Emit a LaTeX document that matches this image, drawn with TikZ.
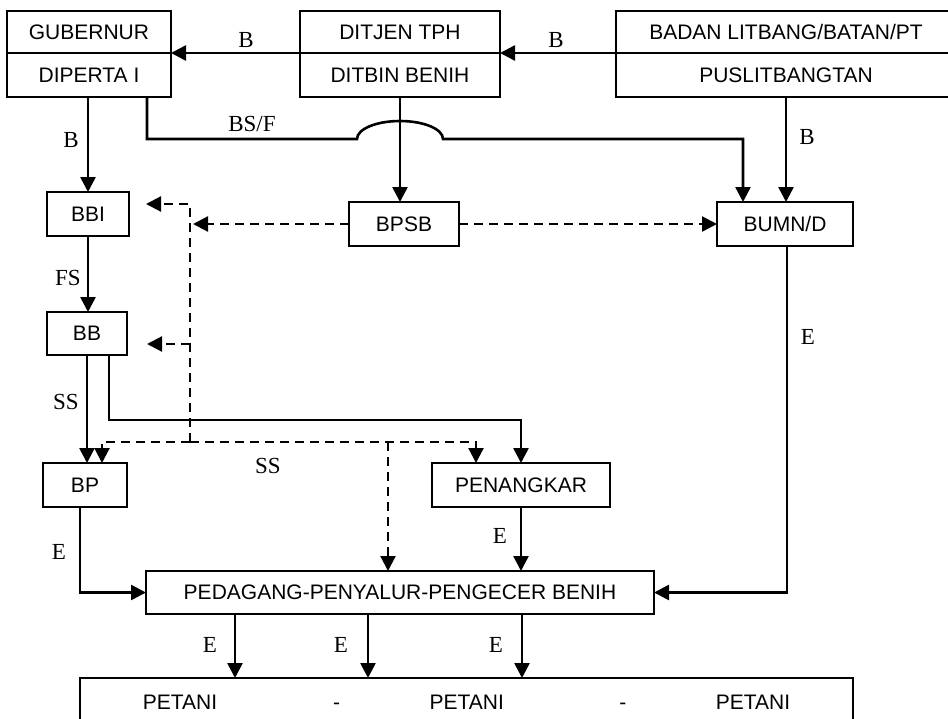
\documentclass[tikz,border=0pt]{standalone}
\usepackage{fontspec}
\setmainfont{Liberation Serif}
\setsansfont{Liberation Sans}
\usetikzlibrary{arrows.meta, positioning}

\begin{document}
\begin{tikzpicture}[
  x=1pt, y=-1pt,
  box/.style={draw, line width=2pt, inner sep=0pt, outer sep=0pt, minimum height=44pt, font=\sffamily\fontsize{21}{25}\selectfont},
  lbl/.style={inner sep=0pt, font=\fontsize{23}{27}\selectfont},
  arrow/.style={-{Triangle[length=15pt, width=15pt]}, line width=2.6pt},
  dasharrow/.style={arrow, line width=2.2pt, dash pattern=on 9pt off 6pt}
]
\useasboundingbox (0,0) rectangle (948,718);
\clip (0,0) rectangle (948,718);

% top row
\node[box, minimum width=164pt, minimum height=42pt] (gubernur) at (89,32) {GUBERNUR};
\node[box, minimum width=164pt, below=0pt of gubernur] (diperta) {DIPERTA I};
\node[box, minimum width=200pt, minimum height=42pt] (ditjen) at (400,32) {DITJEN TPH};
\node[box, minimum width=200pt, below=0pt of ditjen] (ditbin) {DITBIN BENIH};
\node[box, minimum width=340pt, minimum height=42pt] (badan) at (786,32) {BADAN LITBANG/BATAN/PT};
\node[box, minimum width=340pt, below=0pt of badan] (puslit) {PUSLITBANGTAN};

% middle
\node[box, minimum width=82pt] (bbi) at (88,214) {BBI};
\node[box, minimum width=80pt, minimum height=43pt] (bb) at (87,333.5) {BB};
\node[box, minimum width=84pt] (bp) at (85,485) {BP};
\node[box, minimum width=110pt] (bpsb) at (404,224) {BPSB};
\node[box, minimum width=136pt] (bumn) at (785,224) {BUMN/D};
\node[box, minimum width=178pt] (penangkar) at (521,485) {PENANGKAR};

% bottom
\node[box, minimum width=508pt, minimum height=43pt] (pedagang) at (400,592.5) {PEDAGANG-PENYALUR-PENGECER BENIH};
\node[box, minimum width=773pt, minimum height=48pt] (petani) at (466.5,702)
  {PETANI\hspace{116pt}-\hspace{89.5pt}PETANI\hspace{115.5pt}-\hspace{89.5pt}PETANI};

% helper points
\coordinate (bsfturn) at (147,139);
\coordinate (jumpL) at (357,139);
\coordinate (jumpR) at (443,139);
\coordinate (bsfend) at ([xshift=26pt]bumn.north west);
\coordinate (spineT) at (190,204);
\coordinate (spineM) at (190,344);
\coordinate (spineB) at (190,442);
\coordinate (bbiin) at (146,204);
\coordinate (bbin) at (147,344);
\coordinate (bpdash) at ([xshift=17pt]bp.north);
\coordinate (pkdash) at ([xshift=-45pt]penangkar.north);
\coordinate (pgdash) at ([xshift=-12pt]pedagang.north);
\coordinate (bbout) at ([xshift=-18pt]bb.south east);
\coordinate (ssrow) at (0,420);

% solid connectors
\draw[arrow] (badan.south west) -- (ditjen.south east);
\draw[arrow] (ditjen.south west) -- (gubernur.south east);
\draw[arrow] (bbi.north |- diperta.south) -- (bbi.north);
\draw[arrow] (diperta.south -| bsfturn) -- (bsfturn) -- (jumpL)
  arc[start angle=180, end angle=0, x radius=43pt, y radius=18pt]
  -- (bsfend |- jumpR) -- (bsfend);
\draw[arrow] (ditbin.south) -- (ditbin.south |- bpsb.north);
\draw[arrow] (puslit.south) -- (puslit.south |- bumn.north);
\draw[arrow] (bbi.south) -- (bbi.south |- bb.north);
\draw[arrow] (bb.south) -- (bb.south |- bp.north);
\draw[arrow] (bbout) -- (bbout |- ssrow) -| (penangkar.north);
\draw[arrow] ([xshift=-5pt]bp.south) |- (pedagang.west);
\draw[arrow] (penangkar.south) -- (penangkar.south |- pedagang.north);
\draw[arrow] ([xshift=2pt]bumn.south) |- (pedagang.east);
\foreach \dx in {-165,-32,122}
  \draw[arrow] ([xshift=\dx pt]pedagang.south) -- ([xshift=\dx pt]pedagang.south |- petani.north);

% dashed connectors
\draw[dasharrow] (bpsb.east) -- (bumn.west);
\draw[dasharrow] (bpsb.west) -- ([xshift=3pt]spineT |- bpsb.west);
\draw[dasharrow] (spineB) -- (spineT) -- (bbiin);
\draw[dasharrow] (spineM) -- (bbin);
\draw[dasharrow] (spineB) -| (bpdash);
\draw[dasharrow] (spineB) -| (pkdash);
\draw[dasharrow] (pgdash |- spineB) -- (pgdash);

% labels
\node[lbl] (lbtop1) at (246,40) {B};
\node[lbl] (lbtop2) at (556,40) {B};
\node[lbl] (lbgub) at (71,140) {B};
\node[lbl] (lbbsf) at (252,124) {BS/F};
\node[lbl] (lbpus) at (807,137) {B};
\node[lbl] (lbfs) at (68,278) {FS};
\node[lbl] (lbss1) at (66,402) {SS};
\node[lbl] (lbss2) at (268,466) {SS};
\node[lbl] (lbbp) at (59,552) {E};
\node[lbl] (lbpk) at (500,536) {E};
\node[lbl] (lbbumn) at (808,337) {E};
\node[lbl] (lbpt1) at (210,645) {E};
\node[lbl] (lbpt2) at (341,645) {E};
\node[lbl] (lbpt3) at (496,645) {E};
\end{tikzpicture}
\end{document}
